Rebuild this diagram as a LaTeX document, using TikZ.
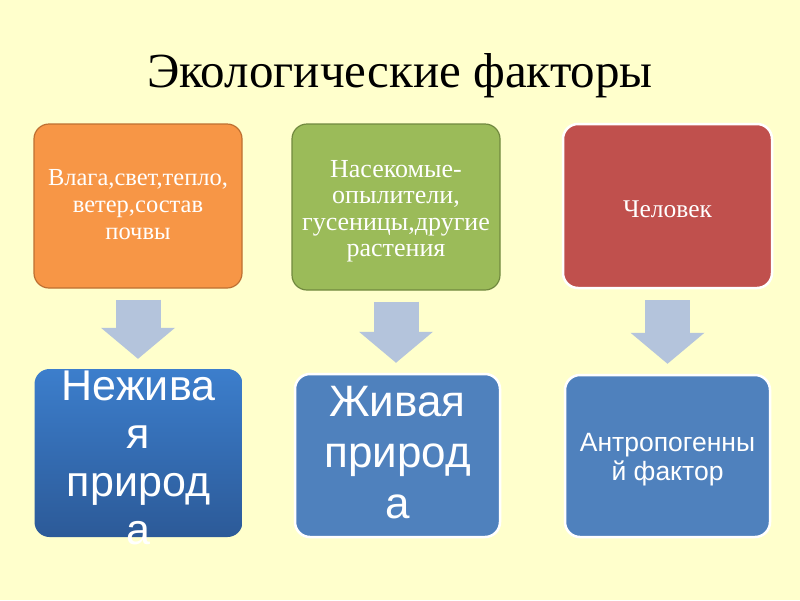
\documentclass[tikz,border=0pt]{standalone}
\usepackage{fontspec}
\setmainfont{Liberation Serif}
\setsansfont{Liberation Sans}
\usetikzlibrary{positioning,arrows.meta,calc}

\definecolor{slidebg}{HTML}{FFFFCC}
\definecolor{accorange}{HTML}{F79646}
\definecolor{edgeorange}{RGB}{190,112,50}
\definecolor{accgreen}{HTML}{9BBB59}
\definecolor{edgegreen}{HTML}{71893F}
\definecolor{accred}{HTML}{C0504D}
\definecolor{accblue}{HTML}{4F81BD}
\definecolor{bluetop}{RGB}{60,126,204}
\definecolor{bluebot}{RGB}{44,90,152}
\definecolor{arrowgrey}{RGB}{180,196,220}

\tikzset{
  factorbox/.style={rectangle,rounded corners=15pt,minimum width=208pt,minimum height=164pt,inner sep=0pt},
  toptext/.style={text=white,align=center,font=\fontsize{24.5}{27}\selectfont},
  bottext/.style={text=white,align=center,font=\sffamily},
  blockarrow/.style={arrowgrey,line width=45pt,shorten <=11pt,shorten >=10pt,
    -{Triangle[width=74pt,length=31pt,line width=0pt]}}
}

\begin{document}
\begin{tikzpicture}[x=1pt,y=-1pt]
\fill[slidebg] (0,0) rectangle (800,600);
\useasboundingbox (0,0) rectangle (800,600);
% title
\node (title) at (400,76) {\fontsize{49}{52}\selectfont Экологические факторы};
% factors
\node[factorbox,fill=accorange,draw=edgeorange,line width=1.2pt] (fabiotic) at (138,206) {};
\node[toptext] at (138,205) {Влага,свет,тепло,\\ветер,состав\\почвы};
\node[factorbox,fill=accgreen,draw=edgegreen,line width=1.2pt,minimum height=166pt] (fbiotic) at (396,207) {};
\node[toptext,font=\fontsize{26}{26.5}\selectfont] at (396,211) {Насекомые-\\опылители,\\гусеницы,другие\\растения};
\node[factorbox,fill=accred,draw=white,line width=2.5pt,minimum width=209pt] (fhuman) at (667.5,206) {};
\node[toptext,font=\fontsize{25.5}{27}\selectfont] at (667.5,209) {Человек};
% groups
\node[factorbox,top color=bluetop,bottom color=bluebot,minimum height=168pt] (gabiotic) at (138.5,453) {};
\node[bottext,font=\sffamily\fontsize{43}{48}\selectfont] at (138.5,458) {Нежива\\я\\природ\\а};
\node[factorbox,fill=accblue,draw=white,line width=2.5pt,minimum width=205pt,minimum height=163pt] (gbiotic) at (397.5,455.5) {};
\node[bottext,font=\sffamily\fontsize{44}{51}\selectfont] at (397.5,453) {Живая\\природ\\а};
\node[factorbox,fill=accblue,draw=white,line width=2.5pt,minimum width=205pt,minimum height=162pt] (ghuman) at (667.5,456) {};
\node[bottext,font=\sffamily\fontsize{26.5}{29}\selectfont] at (667.5,460) {Антропогенны\\й фактор};
% arrows
\draw[blockarrow] (fabiotic.south) -- (fabiotic.south |- gabiotic.north);
\draw[blockarrow] (fbiotic.south) -- (fbiotic.south |- gbiotic.north);
\draw[blockarrow] (fhuman.south) -- (fhuman.south |- ghuman.north);
\end{tikzpicture}
\end{document}
